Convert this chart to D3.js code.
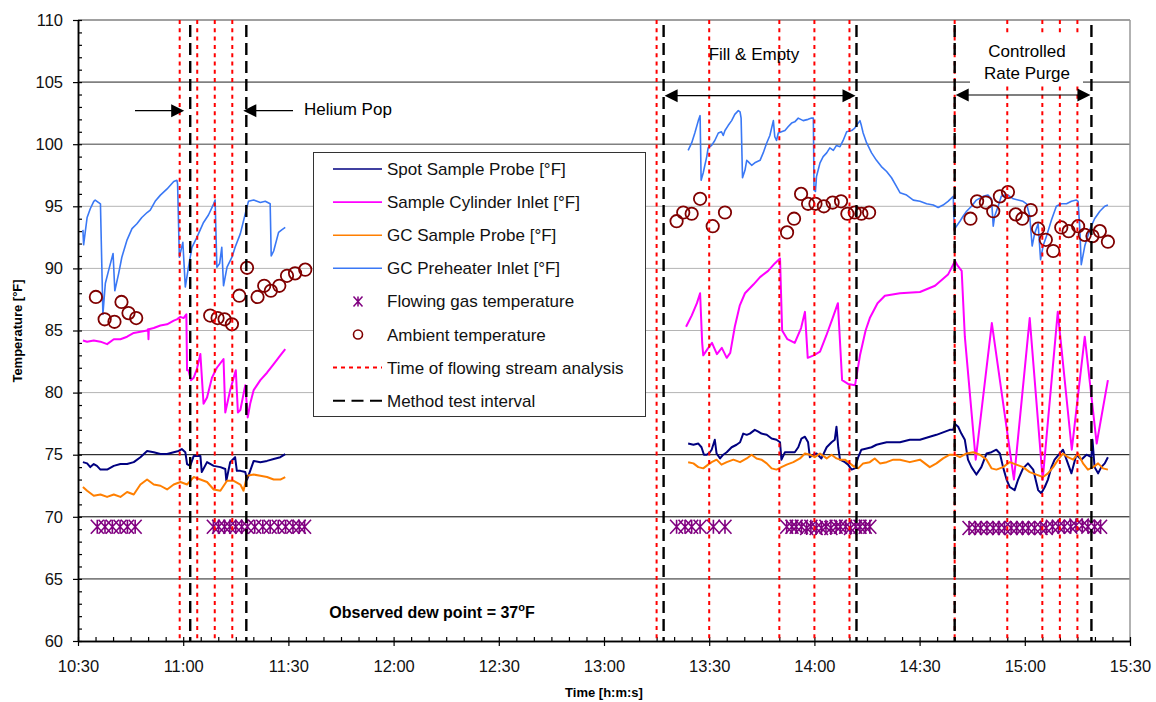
<!DOCTYPE html>
<html>
<head>
<meta charset="utf-8">
<script src="https://cdn.jsdelivr.net/npm/d3@7"></script>
<style>
  body { margin: 0; background: #fff; }
  svg { font-family: "Liberation Sans", Arial, sans-serif; }
</style>
</head>
<body>
<svg id="chart" width="1156" height="702"></svg>
<script>
// all series times are minutes after 10:30, values in °F
const START = "10:30";
const END = "15:30";

const spotSampleProbe = [
  [1.4, 74.4], [2.6, 74.3], [3.5, 74.0], [4.5, 74.25], [5.4, 74.1], [6.4, 73.8], [8.3, 73.8],
  [10.2, 74.1], [12.1, 74.25], [14.0, 74.25], [15.9, 74.4], [17.8, 74.8], [19.7, 75.3], [21.6, 75.2],
  [23.5, 75.05], [25.4, 75.05], [27.3, 75.2], [28.7, 75.3], [29.6, 75.45], [30.6, 75.2], [31.1, 74.25],
  [32.0, 74.1], [33.0, 74.9], [34.9, 74.9], [35.3, 73.6], [36.8, 74.4], [38.7, 74.1], [40.6, 74.0],
  [42.0, 73.85], [42.3, 72.9], [43.4, 74.4], [44.8, 74.8], [45.3, 73.7], [46.3, 73.7], [47.7, 73.6],
  [48.2, 73.0], [49.1, 73.7], [50.1, 74.5], [52.0, 74.4], [53.9, 74.5], [55.8, 74.65], [57.7, 74.8],
  [59.1, 75.05],
  null,
  [174.0, 75.9], [175.5, 75.8], [176.9, 75.9], [177.8, 75.6], [178.5, 75.0], [179.3, 75.0], [180.2, 75.2],
  [180.7, 75.4], [181.6, 76.2], [182.1, 75.1], [183.1, 74.7], [184.0, 75.0], [185.0, 75.2], [186.4, 75.6],
  [187.8, 75.8], [188.8, 76.0], [189.7, 76.7], [190.7, 76.6], [191.6, 76.7], [193.0, 77.0], [194.0, 76.85],
  [194.9, 76.7], [196.4, 76.6], [197.8, 76.3], [199.2, 76.2], [200.2, 76.0], [200.6, 74.6], [201.6, 75.2],
  [203.0, 75.2], [204.4, 75.2], [205.4, 75.6], [206.3, 76.3], [207.3, 76.45], [208.2, 76.0], [208.7, 74.8],
  [209.7, 75.0], [210.6, 75.1], [212.0, 74.7], [213.5, 75.6], [214.9, 76.0], [215.8, 76.2], [216.3, 77.25],
  [216.8, 75.6], [217.3, 74.6], [218.7, 74.4], [219.6, 74.2], [220.6, 73.8], [221.5, 73.9], [222.5, 74.8],
  [223.4, 75.4], [224.9, 75.5], [226.3, 75.6], [227.7, 75.8], [229.1, 75.9], [230.6, 76.0], [232.5, 76.0],
  [234.4, 76.0], [237.2, 76.2], [240.1, 76.2], [242.9, 76.45], [244.8, 76.6], [246.7, 76.8], [248.6, 77.0],
  [249.6, 77.0], [250.0, 77.5], [251.0, 77.25], [251.9, 76.7], [252.9, 76.2], [253.8, 74.6], [254.8, 74.0],
  [256.2, 73.4], [257.6, 74.0], [259.1, 75.1], [260.5, 75.2], [261.9, 75.4], [262.9, 75.1], [263.8, 74.0],
  [264.8, 73.0], [265.7, 72.4], [267.1, 72.15], [268.1, 73.0], [269.5, 73.9], [270.9, 74.3], [272.4, 73.8],
  [273.8, 72.15], [274.7, 71.9], [275.7, 72.4], [276.6, 73.0], [277.6, 74.0], [278.5, 74.6], [280.0, 75.1],
  [280.9, 75.4], [281.9, 74.6], [283.3, 73.5], [284.7, 75.0], [286.1, 74.6], [287.6, 75.0], [289.0, 74.8],
  [289.3, 76.2], [289.9, 74.0], [290.9, 73.5], [291.8, 74.0], [292.8, 74.3], [293.7, 74.8]
];

const sampleCylinderInlet = [
  [1.4, 84.2], [2.6, 84.1], [4.5, 84.2], [6.4, 84.1], [8.3, 83.9], [10.2, 84.3], [12.1, 84.3],
  [14.0, 84.5], [15.9, 84.8], [17.8, 84.9], [19.7, 85.0], [20.0, 85.1], [20.1, 84.3], [20.2, 85.1],
  [21.6, 85.2], [23.5, 85.4], [25.4, 85.5], [27.3, 85.8], [28.2, 85.9], [29.2, 86.1], [30.1, 86.0],
  [30.9, 86.3], [31.1, 81.8], [31.5, 81.8], [32.2, 81.0], [33.0, 81.2], [33.9, 81.9], [34.9, 83.1],
  [35.8, 79.1], [36.8, 79.6], [38.2, 81.2], [39.6, 82.0], [41.5, 82.7], [42.0, 78.4], [43.4, 80.2],
  [45.0, 81.8], [45.6, 78.4], [46.3, 78.6], [47.7, 80.6], [48.4, 78.0], [49.1, 79.1], [50.1, 80.2],
  [52.0, 81.0], [53.9, 81.6], [55.8, 82.3], [57.7, 83.0], [59.1, 83.5],
  null,
  [173.4, 85.3], [175.0, 86.2], [176.5, 87.2], [177.4, 88.0], [178.0, 84.0], [178.3, 83.0], [179.5, 83.5],
  [180.8, 84.0], [182.2, 83.1], [183.6, 83.6], [185.0, 82.8], [186.0, 83.2], [187.3, 85.3], [188.7, 87.0],
  [190.2, 88.0], [192.6, 88.7], [194.5, 89.3], [196.8, 89.8], [198.7, 90.4], [200.2, 90.8], [200.8, 85.0],
  [202.3, 84.3], [204.4, 84.0], [206.2, 85.2], [207.3, 86.5], [208.1, 82.8], [209.8, 83.0], [211.6, 83.3],
  [213.4, 84.6], [215.2, 86.0], [216.7, 87.2], [217.9, 81.0], [219.6, 80.7], [221.6, 80.6], [223.0, 83.0],
  [224.6, 85.0], [225.8, 86.0], [228.0, 87.2], [230.1, 87.8], [234.4, 88.0], [240.1, 88.1], [244.4, 88.6],
  [248.1, 89.5], [250.1, 90.6], [250.9, 90.2], [252.0, 89.8], [252.9, 84.5], [256.0, 74.6], [260.6, 85.6],
  [266.9, 73.0], [271.4, 86.0], [275.1, 73.0], [279.4, 86.5], [283.4, 75.4], [287.1, 84.5], [290.5, 75.9],
  [293.7, 81.0]
];

const gcSampleProbe = [
  [1.4, 72.4], [2.6, 72.1], [4.5, 71.7], [6.4, 71.8], [8.3, 71.6], [10.2, 71.8], [12.1, 71.6],
  [14.0, 72.0], [15.9, 71.8], [17.8, 72.6], [19.7, 73.0], [21.6, 72.6], [23.5, 72.5], [25.4, 72.2],
  [27.3, 72.6], [29.2, 72.8], [31.1, 72.6], [33.0, 73.2], [34.9, 73.0], [36.8, 72.8], [38.7, 72.2],
  [40.6, 72.1], [42.5, 72.9], [44.4, 72.9], [46.3, 72.6], [47.2, 72.1], [48.2, 73.3], [50.1, 73.4],
  [52.0, 73.3], [53.9, 73.2], [55.8, 73.0], [57.7, 73.0], [59.1, 73.2],
  null,
  [174.0, 74.4], [175.5, 74.3], [176.9, 74.0], [178.3, 73.9], [179.7, 74.2], [180.7, 74.4], [182.1, 74.6],
  [183.5, 74.2], [185.0, 74.4], [186.9, 74.6], [188.8, 74.4], [190.7, 74.7], [192.1, 75.0], [193.5, 74.7],
  [194.9, 74.6], [196.4, 74.3], [197.8, 73.9], [199.2, 73.8], [200.6, 74.0], [202.1, 74.2], [204.0, 74.4],
  [205.9, 74.7], [207.3, 75.1], [208.7, 75.0], [210.1, 74.8], [211.6, 75.1], [213.5, 74.7], [214.9, 75.0],
  [216.3, 74.7], [217.3, 74.6], [218.7, 74.6], [220.1, 74.3], [221.5, 74.0], [222.5, 73.9], [223.9, 74.3],
  [225.8, 74.4], [227.2, 74.7], [228.7, 74.3], [230.6, 74.4], [232.5, 74.6], [234.4, 74.6], [237.2, 74.4],
  [240.1, 74.6], [242.9, 74.0], [244.8, 74.3], [246.7, 74.7], [248.6, 75.0], [250.0, 75.0], [251.5, 74.8],
  [253.4, 75.1], [255.3, 75.2], [257.2, 75.0], [259.1, 74.6], [260.5, 73.9], [261.9, 73.8], [263.8, 74.0],
  [265.7, 74.4], [267.6, 74.2], [269.5, 74.0], [271.4, 73.6], [273.3, 73.4], [275.2, 73.2], [276.6, 73.5],
  [278.1, 74.0], [279.5, 74.6], [280.9, 75.1], [282.3, 74.8], [283.8, 74.6], [285.2, 75.1], [286.6, 74.3],
  [288.0, 73.8], [289.5, 74.0], [290.9, 74.3], [292.3, 73.9], [293.7, 73.8]
];

const gcPreheaterInlet = [
  [1.4, 93.1], [1.6, 91.9], [2.6, 94.1], [3.5, 94.8], [4.5, 95.4], [4.9, 95.5], [5.9, 95.3], [6.4, 95.2],
  [7.1, 86.3], [7.8, 88.8], [8.7, 89.8], [10.0, 91.2], [10.5, 88.2], [11.6, 89.6], [12.5, 90.9], [14.0, 92.3],
  [15.4, 93.2], [16.8, 93.6], [18.2, 94.1], [19.7, 94.5], [20.6, 94.7], [22.0, 95.4], [23.5, 95.9],
  [25.4, 96.4], [27.3, 97.0], [28.2, 97.1], [28.4, 96.8], [28.9, 90.9], [29.4, 91.5], [29.9, 92.1],
  [30.6, 88.5], [31.5, 90.1], [32.5, 91.7], [33.9, 92.5], [35.8, 93.7], [37.2, 94.3], [38.7, 95.2],
  [39.1, 95.5], [39.6, 90.1], [40.4, 90.4], [41.0, 91.7], [41.5, 88.6], [42.5, 90.1], [43.9, 90.9],
  [44.8, 91.7], [46.3, 92.8], [47.7, 94.4], [48.6, 95.4], [50.1, 95.5], [52.0, 95.3], [53.4, 95.4],
  [54.8, 95.2], [55.1, 91.0], [55.8, 91.4], [57.2, 92.9], [58.1, 93.1], [59.1, 93.3],
  null,
  [174.0, 99.5], [175.0, 100.1], [175.9, 100.9], [176.9, 101.9], [177.4, 102.3], [177.7, 97.1],
  [178.3, 97.7], [179.3, 99.0], [179.7, 99.7], [180.7, 99.9], [181.6, 100.3], [182.6, 100.9], [183.5, 101.0],
  [184.0, 100.7], [184.5, 101.1], [185.4, 101.5], [186.4, 101.9], [187.3, 102.4], [188.3, 102.7],
  [188.8, 102.6], [189.1, 102.1], [189.5, 97.3], [190.2, 97.9], [190.7, 98.7], [191.1, 98.6], [192.1, 98.3],
  [193.0, 98.5], [194.5, 98.7], [195.4, 99.3], [196.4, 100.1], [197.3, 100.7], [198.3, 101.9], [198.7, 100.6],
  [199.2, 100.3], [199.7, 100.9], [200.6, 101.0], [201.6, 101.1], [202.5, 101.4], [203.5, 101.7],
  [204.4, 101.8], [205.4, 102.1], [206.8, 101.9], [208.2, 102.0], [209.2, 102.1], [209.7, 102.1],
  [209.9, 96.3], [210.3, 96.2], [210.6, 97.4], [211.6, 98.5], [212.5, 99.0], [213.5, 99.3], [214.4, 99.7],
  [215.4, 99.5], [216.3, 99.9], [217.3, 99.8], [218.2, 100.3], [219.2, 101.0], [220.6, 101.1],
  [221.5, 101.3], [222.0, 101.5], [223.0, 101.9], [223.4, 101.5], [223.9, 100.9], [224.9, 100.1],
  [226.3, 99.3], [227.7, 98.7], [229.1, 98.2], [230.6, 97.8], [232.0, 97.3], [233.4, 96.6], [234.4, 96.1],
  [236.3, 95.9], [238.2, 95.5], [240.1, 95.4], [242.0, 95.2], [243.9, 95.1], [245.3, 94.9], [246.7, 95.1],
  [248.1, 95.4], [249.6, 95.8], [249.9, 93.1], [250.5, 93.4], [251.5, 93.8], [252.4, 94.2], [253.4, 94.6],
  [254.8, 95.0], [256.2, 95.5], [258.1, 95.8], [259.5, 95.9], [260.5, 95.6], [261.0, 93.4], [261.4, 94.2],
  [262.4, 95.0], [263.3, 95.8], [264.3, 95.9], [265.2, 95.9], [266.7, 95.6], [268.1, 95.5], [269.5, 95.4],
  [270.5, 95.2], [271.4, 94.2], [272.1, 91.8], [272.8, 92.8], [273.8, 93.6], [274.5, 90.7], [275.2, 91.8],
  [276.2, 92.6], [277.6, 93.9], [279.0, 95.0], [280.4, 95.2], [281.9, 95.2], [283.3, 95.4], [284.7, 95.5],
  [285.2, 95.4], [285.7, 93.1], [286.1, 90.3], [287.1, 91.8], [288.5, 93.1], [289.9, 94.0], [291.4, 94.6],
  [292.8, 95.0], [293.7, 95.1]
];

const flowingGas = [
  [5.5, 69.2], [7.7, 69.2], [9.8, 69.2], [12.0, 69.2], [14.1, 69.2], [16.3, 69.2],
  [38.6, 69.2], [40.1, 69.2], [41.8, 69.2], [43.3, 69.2], [45.0, 69.2], [46.7, 69.2], [48.3, 69.2],
  [50.4, 69.2], [52.7, 69.2], [54.8, 69.2], [57.1, 69.2], [59.2, 69.2], [61.3, 69.2], [63.1, 69.2], [64.6, 69.2],
  [170.7, 69.2], [173.1, 69.2], [175.0, 69.2], [177.4, 69.2], [181.2, 69.2], [184.5, 69.2],
  [202.1, 69.2], [203.6, 69.2], [204.8, 69.2], [206.3, 69.2], [207.8, 69.1], [209.0, 69.2], [210.5, 69.1],
  [212.0, 69.1], [213.3, 69.2], [214.7, 69.1], [216.2, 69.2], [217.4, 69.2], [218.9, 69.2], [220.3, 69.1],
  [221.8, 69.2], [223.0, 69.2], [224.5, 69.2], [225.8, 69.2],
  [254.1, 69.1], [255.9, 69.1], [257.4, 69.1], [259.2, 69.1], [261.0, 69.1], [262.6, 69.1], [264.2, 69.1],
  [266.1, 69.1], [267.7, 69.1], [269.4, 69.1], [271.0, 69.1], [272.8, 69.1], [274.6, 69.1], [276.1, 69.1],
  [277.9, 69.2], [279.6, 69.2], [281.2, 69.2], [283.1, 69.2], [284.6, 69.3], [286.4, 69.3], [288.0, 69.2],
  [289.9, 69.2], [291.6, 69.2]
];

const ambient = [
  [5.1, 87.7], [7.6, 85.9], [10.4, 85.7], [12.4, 87.3], [14.4, 86.4], [16.6, 86.0],
  [37.7, 86.2], [39.8, 86.0], [41.8, 85.9], [43.9, 85.5], [46.0, 87.8], [48.2, 90.05],
  [51.2, 87.7], [53.1, 88.6], [55.0, 88.2], [57.4, 88.6], [59.6, 89.4], [61.9, 89.6], [64.8, 89.9],
  [170.7, 93.8], [172.6, 94.5], [175.0, 94.4], [177.4, 95.6], [181.0, 93.4], [184.5, 94.5],
  [202.2, 92.9], [204.2, 94.0], [206.2, 96.0], [208.2, 95.2], [210.3, 95.2], [212.7, 95.0], [215.2, 95.3],
  [217.6, 95.4], [219.4, 94.4], [221.5, 94.5], [223.4, 94.4], [225.6, 94.5],
  [254.5, 94.0], [256.4, 95.4], [258.9, 95.3], [261.0, 94.6], [262.9, 95.8], [265.2, 96.15], [267.4, 94.35],
  [269.3, 94.0], [271.7, 94.7], [273.8, 93.2], [276.0, 92.3], [278.1, 91.4], [280.4, 93.3], [282.5, 93.0],
  [285.2, 93.4], [287.1, 92.7], [289.3, 92.6], [291.4, 93.0], [293.7, 92.15]
];

const analysisTimes = ["10:59", "11:04", "11:09", "11:14", "13:15", "13:30", "13:50", "14:00",
  "14:10", "14:40", "14:55", "15:05", "15:10", "15:15"];
const methodTestTimes = ["11:02", "11:18", "13:17", "14:12", "14:40", "15:19"];

const yTicks = [60, 65, 70, 75, 80, 85, 90, 95, 100, 105, 110];

const legendItems = [
  { label: "Spot Sample Probe [°F]", kind: "line", color: "#000080" },
  { label: "Sample Cylinder Inlet [°F]", kind: "line", color: "#ff00ff" },
  { label: "GC Sample Probe [°F]", kind: "line", color: "#ff7f00" },
  { label: "GC Preheater Inlet [°F]", kind: "line", color: "#3a78f5" },
  { label: "Flowing gas temperature", kind: "star", color: "#800080" },
  { label: "Ambient temperature", kind: "circle", color: "#800000" },
  { label: "Time of flowing stream analysis", kind: "dot", color: "#ff0000" },
  { label: "Method test interval", kind: "dash", color: "#000" }
];

const svg = d3.select("#chart");
const parseClock = d3.timeParse("%H:%M");
const t0 = parseClock(START);
const at = (m) => new Date(+t0 + m * 60000);

const x = d3.scaleTime().domain([t0, parseClock(END)]).range([78, 1130]);
const y = d3.scaleLinear().domain([60, 110]).range([641, 20]);

// grid
function gridColor(v) {
  if (v === 75 || v === 70) return ["#000", 1];
  if (v >= 80 && v <= 95) return ["#b4b4b4", 1];
  return ["#808080", 1.6];
}
svg.append("g")
  .selectAll("line")
  .data(yTicks.filter((v) => v > 60))
  .join("line")
  .attr("x1", 78)
  .attr("x2", 1130)
  .attr("y1", (d) => y(d))
  .attr("y2", (d) => y(d))
  .attr("stroke", (d) => gridColor(d)[0])
  .attr("stroke-width", (d) => gridColor(d)[1]);

svg.append("line")
  .attr("x1", 1130).attr("x2", 1130)
  .attr("y1", y(110)).attr("y2", y(60))
  .attr("stroke", "#999").attr("stroke-width", 1.5);

// axes
const yAxis = svg.append("g")
  .attr("transform", "translate(78,0)")
  .call(d3.axisLeft(y).tickValues(yTicks).tickSize(5).tickSizeOuter(0).tickPadding(10));
svg.append("g")
  .attr("transform", "translate(78,0)")
  .call(d3.axisLeft(y).tickValues(d3.range(60, 111, 1)).tickSize(-4).tickSizeOuter(0).tickFormat(""));

const xAxis = svg.append("g")
  .attr("transform", "translate(0,641)")
  .call(d3.axisBottom(x).ticks(d3.timeMinute.every(30)).tickSize(5).tickSizeOuter(0)
    .tickFormat(d3.timeFormat("%H:%M")).tickPadding(14));
svg.append("g")
  .attr("transform", "translate(0,641)")
  .call(d3.axisBottom(x).ticks(d3.timeMinute.every(5)).tickSize(-4).tickSizeOuter(0).tickFormat(""));

svg.selectAll(".domain").attr("stroke", "#000").attr("stroke-width", 1.5);
svg.selectAll(".tick line").attr("stroke", "#000").attr("stroke-width", 1.2);
yAxis.selectAll("text").attr("font-size", 16.5).attr("fill", "#111").attr("font-family", "Liberation Sans, Arial");
xAxis.selectAll("text").attr("font-size", 16.5).attr("fill", "#111").attr("font-family", "Liberation Sans, Arial");

// axis titles
svg.append("text")
  .attr("transform", "translate(22,331) rotate(-90)")
  .attr("text-anchor", "middle")
  .attr("font-size", 13).attr("font-weight", "bold")
  .text("Temperature [°F]");
svg.append("text")
  .attr("x", 604).attr("y", 697)
  .attr("text-anchor", "middle")
  .attr("font-size", 13).attr("font-weight", "bold")
  .text("Time [h:m:s]");

// series
const line = d3.line()
  .defined((d) => d)
  .x((d) => x(at(d[0])))
  .y((d) => y(d[1]));

const series = [
  { data: spotSampleProbe, color: "#000080", width: 2 },
  { data: sampleCylinderInlet, color: "#ff00ff", width: 2 },
  { data: gcSampleProbe, color: "#ff7f00", width: 2 },
  { data: gcPreheaterInlet, color: "#3a78f5", width: 1.6 }
];
svg.append("g")
  .selectAll("path")
  .data(series)
  .join("path")
  .attr("fill", "none")
  .attr("stroke", (d) => d.color)
  .attr("stroke-width", (d) => d.width)
  .attr("stroke-linejoin", "round")
  .attr("d", (d) => line(d.data));

function starPath(r, h) {
  return `M${-r},${-h}L${r},${h}M${-r},${h}L${r},${-h}M0,${-h}L0,${h}`;
}

svg.append("g")
  .selectAll("path")
  .data(flowingGas)
  .join("path")
  .attr("transform", (d) => `translate(${x(at(d[0]))},${y(d[1])})`)
  .attr("d", starPath(6.5, 7))
  .attr("stroke", "#800080")
  .attr("stroke-width", 1.6)
  .attr("fill", "none");

svg.append("g")
  .selectAll("circle")
  .data(ambient)
  .join("circle")
  .attr("cx", (d) => x(at(d[0])))
  .attr("cy", (d) => y(d[1]))
  .attr("r", 6.2)
  .attr("fill", "none")
  .attr("stroke", "#800000")
  .attr("stroke-width", 1.8);

// event lines
svg.append("g")
  .selectAll("line")
  .data(analysisTimes)
  .join("line")
  .attr("x1", (d) => x(parseClock(d)))
  .attr("x2", (d) => x(parseClock(d)))
  .attr("y1", y(110))
  .attr("y2", y(60))
  .attr("stroke", "#ff0000")
  .attr("stroke-width", 2)
  .attr("stroke-dasharray", "4,4.3");

svg.append("g")
  .selectAll("line")
  .data(methodTestTimes)
  .join("line")
  .attr("x1", (d) => x(parseClock(d)))
  .attr("x2", (d) => x(parseClock(d)))
  .attr("y1", y(110) + 5)
  .attr("y2", y(60))
  .attr("stroke", "#000")
  .attr("stroke-width", 2.4)
  .attr("stroke-dasharray", "12,6");

// annotations
function arrowHead(g, tipX, yy, dir) {
  g.append("path")
    .attr("d", `M${tipX},${yy}L${tipX - dir * 13},${yy - 6.5}L${tipX - dir * 13},${yy + 6.5}Z`)
    .attr("fill", "#000");
}
const ann = svg.append("g");
const heY = 110.7;
ann.append("line").attr("x1", 135).attr("x2", x(parseClock("11:02")) - 8).attr("y1", heY).attr("y2", heY)
  .attr("stroke", "#000").attr("stroke-width", 1.2);
arrowHead(ann, x(parseClock("11:02")) - 6, heY, 1);
ann.append("line").attr("x1", 293).attr("x2", x(parseClock("11:18")) + 6).attr("y1", heY).attr("y2", heY)
  .attr("stroke", "#000").attr("stroke-width", 1.2);
arrowHead(ann, x(parseClock("11:18")) - 3, heY, -1);
ann.append("text").attr("x", 304).attr("y", 115).attr("font-size", 17).text("Helium Pop");

function doubleArrow(t1, t2, yy) {
  const a = x(parseClock(t1)), b = x(parseClock(t2));
  ann.append("line").attr("x1", a + 6).attr("x2", b - 6).attr("y1", yy).attr("y2", yy)
    .attr("stroke", "#000").attr("stroke-width", 1.2);
  arrowHead(ann, a + 1, yy, -1);
  arrowHead(ann, b - 1, yy, 1);
}
doubleArrow("13:17", "14:12", 95.7);
ann.append("text").attr("x", 754).attr("y", 60).attr("text-anchor", "middle").attr("font-size", 17)
  .text("Fill & Empty");

ann.append("rect").attr("x", 970).attr("y", 36).attr("width", 113).attr("height", 50).attr("fill", "#fff");
doubleArrow("14:40", "15:19", 95);
ann.append("text").attr("x", 1027).attr("y", 57).attr("text-anchor", "middle").attr("font-size", 17)
  .text("Controlled");
ann.append("text").attr("x", 1027).attr("y", 79).attr("text-anchor", "middle").attr("font-size", 17)
  .text("Rate Purge");

const dew = svg.append("text").attr("x", 432).attr("y", 618).attr("text-anchor", "middle")
  .attr("font-size", 16).attr("font-weight", "bold");
dew.append("tspan").text("Observed dew point = 37");
dew.append("tspan").attr("dy", -7).attr("font-size", 11).text("o");
dew.append("tspan").attr("dy", 7).text("F");

// legend
const lg = svg.append("g");
lg.append("rect")
  .attr("x", 313.5).attr("y", 152.5).attr("width", 332).attr("height", 264)
  .attr("fill", "#fff").attr("stroke", "#333").attr("stroke-width", 1);
const rows = lg.selectAll("g.row")
  .data(legendItems)
  .join("g")
  .attr("class", "row")
  .attr("transform", (d, i) => `translate(0,${169 + i * 33.1})`);
rows.filter((d) => d.kind !== "star" && d.kind !== "circle")
  .append("line")
  .attr("x1", 333).attr("x2", 382)
  .attr("stroke", (d) => d.color)
  .attr("stroke-width", (d) => (d.kind === "line" ? 1.6 : 2))
  .attr("stroke-dasharray", (d) => (d.kind === "dot" ? "4,4" : d.kind === "dash" ? "12,6.5" : null));
rows.filter((d) => d.kind === "star")
  .append("path")
  .attr("transform", "translate(358,0)")
  .attr("d", starPath(4.5, 5))
  .attr("stroke", (d) => d.color)
  .attr("stroke-width", 1.5);
rows.filter((d) => d.kind === "circle")
  .append("circle")
  .attr("cx", 358).attr("r", 4.5)
  .attr("fill", "none")
  .attr("stroke", (d) => d.color)
  .attr("stroke-width", 1.6);
rows.append("text")
  .attr("x", 387).attr("y", 6)
  .attr("font-size", 17)
  .attr("fill", "#111")
  .text((d) => d.label);
</script>
</body>
</html>
